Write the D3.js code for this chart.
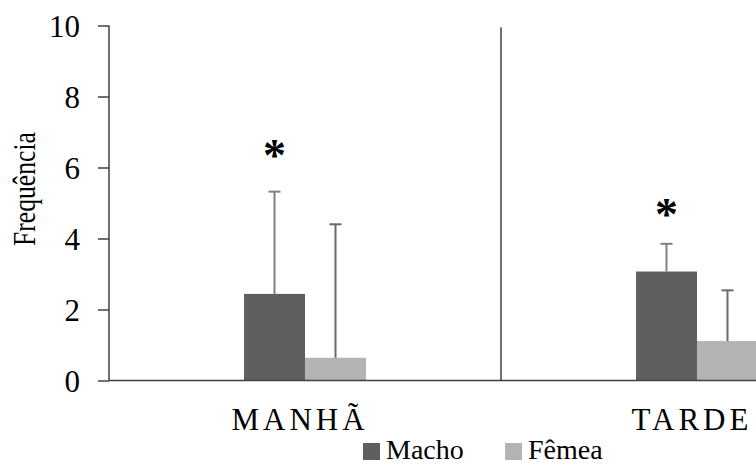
<!DOCTYPE html>
<meta charset="utf-8">
<title>Frequência por período</title>

<style>

html, body {
  margin: 0;
  padding: 0;
  width: 756px;
  height: 465px;
  background: #fff;
  overflow: hidden;
}

svg {
  display: block;
}

text {
  font-family: "Liberation Serif", "Times New Roman", serif;
  fill: #000;
}

.axis path,
.axis line {
  stroke: #404040;
  stroke-width: 1.5;
}

</style>

<body>
  <svg width="756" height="465"></svg>
</body>

<script src="https://d3js.org/d3.v7.min.js"></script>
<script>

var periods = ["MANHÃ", "TARDE"];
var sexes = ["Macho", "Fêmea"];

// mean per period, one array per sex
var machoValues = [2.44, 3.07];
var femeaValues = [0.64, 1.11];

// top of the (upper only) error bar
var machoErrTop = [5.32, 3.85];
var femeaErrTop = [4.40, 2.54];

// where the significance asterisk sits, over the Macho bar
var starValues = [6.5, 4.82];

var yTicks = [0, 2, 4, 6, 8, 10];

var serif = '"Liberation Serif", "Times New Roman", serif';

var colors = {
  'Macho': '#5f5f5f',
  'Fêmea': '#b3b3b3'
};
var errColors = {
  'Macho': '#808080',
  'Fêmea': '#6a6a6a'
};

var svg = d3.select("svg");

var x0 = 109,
    bandWidth = 392,
    y0 = 380.5,
    y10 = 25.5;

var x = d3.scaleBand()
    .domain(periods)
    .range([x0, x0 + bandWidth * periods.length])
    .padding(0);

var xSex = d3.scaleBand()
    .domain(sexes)
    .range([-61, 61]);

var y = d3.scaleLinear()
    .domain([0, 10])
    .range([y0, y10]);

var rows = [];
periods.forEach(function(p, i) {
  rows.push({period: p, sex: "Macho", value: machoValues[i], err: machoErrTop[i]});
  rows.push({period: p, sex: "Fêmea", value: femeaValues[i], err: femeaErrTop[i]});
});

function barX(d) {
  return x(d.period) + x.bandwidth() / 2 + xSex(d.sex);
}

// bars
svg.append("g")
  .selectAll("rect")
  .data(rows)
  .enter().append("rect")
    .attr("x", barX)
    .attr("y", function(d) { return y(d.value); })
    .attr("width", xSex.bandwidth())
    .attr("height", function(d) { return y(0) - y(d.value); })
    .attr("fill", function(d) { return colors[d.sex]; });

// error bars, upward only
var err = svg.append("g")
  .selectAll("g")
  .data(rows)
  .enter().append("g")
    .attr("stroke", function(d) { return errColors[d.sex]; })
    .attr("stroke-width", 2);

err.append("line")
    .attr("x1", function(d) { return barX(d) + xSex.bandwidth() / 2; })
    .attr("x2", function(d) { return barX(d) + xSex.bandwidth() / 2; })
    .attr("y1", function(d) { return y(d.value); })
    .attr("y2", function(d) { return y(d.err); });

err.append("line")
    .attr("x1", function(d) { return barX(d) + xSex.bandwidth() / 2 - 6; })
    .attr("x2", function(d) { return barX(d) + xSex.bandwidth() / 2 + 6; })
    .attr("y1", function(d) { return y(d.err); })
    .attr("y2", function(d) { return y(d.err); });

// asterisks
svg.append("g")
  .selectAll("text")
  .data(periods)
  .enter().append("text")
    .attr("x", function(p) { return x(p) + x.bandwidth() / 2 + xSex("Macho") + xSex.bandwidth() / 2; })
    .attr("y", function(p, i) { return y(starValues[i]) + 21; })
    .attr("text-anchor", "middle")
    .style("font-family", serif)
    .style("font-size", "46px")
    .style("font-weight", "bold")
    .text("*");

// y axis
var yAxis = svg.append("g")
    .attr("class", "axis")
    .attr("transform", "translate(" + x0 + ",0)")
    .call(d3.axisLeft(y).tickValues(yTicks).tickSize(11).tickSizeOuter(0).tickPadding(18));

yAxis.select(".domain").attr("d", "M0," + y(10) + "V" + y(0));
yAxis.selectAll("text")
    .style("font-size", "31px")
    .style("font-family", serif)
    .attr("dy", "0.34em");

// baseline
svg.append("line")
    .attr("x1", x0)
    .attr("x2", 756)
    .attr("y1", y(0))
    .attr("y2", y(0))
    .attr("stroke", "#404040")
    .attr("stroke-width", 1.5);

// divider between periods
svg.append("g")
  .selectAll("line")
  .data(periods.slice(1))
  .enter().append("line")
    .attr("x1", function(p) { return x(p); })
    .attr("x2", function(p) { return x(p); })
    .attr("y1", y(9.95))
    .attr("y2", y(0))
    .attr("stroke", "#404040")
    .attr("stroke-width", 1.5);

// category labels
svg.append("g")
  .selectAll("text")
  .data(periods)
  .enter().append("text")
    .attr("x", function(p) { return x(p) + x.bandwidth() / 2 - 5; })
    .attr("y", 430)
    .attr("text-anchor", "middle")
    .style("font-family", serif)
    .style("font-size", "31px")
    .style("letter-spacing", "4px")
    .text(function(p) { return p; });

// y label, narrow like the original
svg.append("text")
    .attr("transform", "translate(35,189) rotate(-90)")
    .attr("text-anchor", "middle")
    .attr("textLength", 114)
    .attr("lengthAdjust", "spacingAndGlyphs")
    .style("font-family", serif)
    .style("font-size", "31px")
    .text("Frequência");

// legend
var legendX = [363, 505];
var legend = svg.append("g")
  .selectAll("g")
  .data(sexes)
  .enter().append("g")
    .attr("transform", function(d, i) { return "translate(" + legendX[i] + ",443)"; });

legend.append("rect")
    .attr("width", 17)
    .attr("height", 17)
    .attr("fill", function(d) { return colors[d]; });

legend.append("text")
    .attr("x", 23)
    .attr("y", 16)
    .style("font-family", serif)
    .style("font-size", "28px")
    .text(function(d) { return d; });

</script>
